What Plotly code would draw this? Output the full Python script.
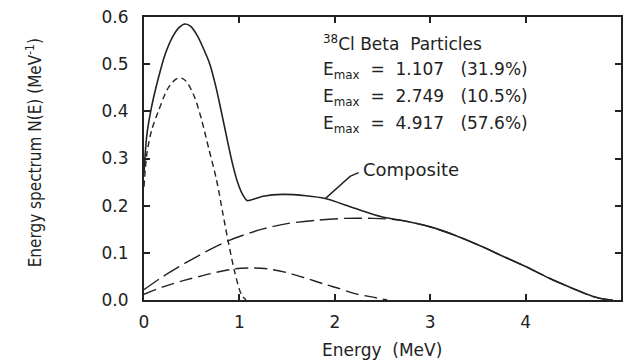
import plotly.graph_objects as go

# ---- data ----
comp_E = [0.0, 0.03, 0.08, 0.15, 0.22, 0.30, 0.37, 0.43, 0.49, 0.56, 0.63, 0.69, 0.75, 0.81, 0.87, 0.93,
          0.98, 1.03, 1.08, 1.12, 1.25, 1.45, 1.70, 1.90, 2.20, 2.50, 2.75, 3.00, 3.25, 3.50, 3.75, 4.00,
          4.25, 4.50, 4.70, 4.85, 4.917]
comp_N = [0.27, 0.35, 0.41, 0.47, 0.52, 0.558, 0.578, 0.585, 0.580, 0.560, 0.53, 0.50, 0.455, 0.40, 0.342, 0.287,
          0.25, 0.225, 0.211, 0.212, 0.220, 0.224, 0.221, 0.215, 0.195, 0.176, 0.167, 0.155, 0.138, 0.117, 0.094, 0.071,
          0.046, 0.024, 0.008, 0.001, 0.0]

b1_E = [0.0, 0.03, 0.08, 0.15, 0.24, 0.30, 0.35, 0.40, 0.45, 0.53, 0.60, 0.68, 0.76, 0.83, 0.88, 0.95, 1.02, 1.07]
b1_N = [0.24, 0.31, 0.36, 0.40, 0.445, 0.462, 0.47, 0.47, 0.462, 0.43, 0.385, 0.32, 0.255, 0.18, 0.127, 0.06, 0.012, 0.0]

b2_E = [0.0, 0.2, 0.43, 0.7, 0.95, 1.15, 1.30, 1.50, 1.70, 1.90, 2.05, 2.20, 2.40, 2.55]
b2_N = [0.012, 0.028, 0.042, 0.056, 0.066, 0.068, 0.066, 0.058, 0.046, 0.033, 0.024, 0.014, 0.006, 0.0]

b3_E = [0.0, 0.2, 0.43, 0.7, 0.9, 1.2, 1.5, 1.8, 2.1, 2.4, 2.6, 2.8, 3.0, 3.25, 3.5, 3.75, 4.0,
        4.25, 4.5, 4.7, 4.85, 4.917]
b3_N = [0.022, 0.05, 0.078, 0.108, 0.127, 0.148, 0.162, 0.169, 0.173, 0.173, 0.171, 0.165, 0.155, 0.138,
        0.117, 0.094, 0.071, 0.046, 0.024, 0.008, 0.001, 0.0]

x_ticks = [0, 1, 2, 3, 4, 5]
y_ticks = [0.0, 0.1, 0.2, 0.3, 0.4, 0.5, 0.6]

NB = "\u00a0"
title_line = "<sup>38</sup>Cl Beta" + NB + NB + "Particles"
emax_lines = ["E<sub>max</sub>" + NB + " = " + NB + "1.107" + NB + NB + " (31.9%)",
              "E<sub>max</sub>" + NB + " = " + NB + "2.749" + NB + NB + " (10.5%)",
              "E<sub>max</sub>" + NB + " = " + NB + "4.917" + NB + NB + " (57.6%)"]

FONT = "DejaVu Sans"
INK = "#222222"

fig = go.Figure()
fig.add_trace(go.Scatter(x=b3_E, y=b3_N, mode="lines",
                         line=dict(color=INK, width=1.4, dash="18px,6px", shape="spline", smoothing=0.8)))
fig.add_trace(go.Scatter(x=b2_E, y=b2_N, mode="lines",
                         line=dict(color=INK, width=1.4, dash="13px,6px", shape="spline", smoothing=0.8)))
fig.add_trace(go.Scatter(x=b1_E, y=b1_N, mode="lines",
                         line=dict(color=INK, width=1.4, dash="6px,4px", shape="spline", smoothing=0.8)))
fig.add_trace(go.Scatter(x=comp_E, y=comp_N, mode="lines",
                         line=dict(color=INK, width=1.6, shape="spline", smoothing=0.8)))

ann = []
ann.append(dict(x=1.854, y=0.545, xref="x", yref="y", text=title_line, showarrow=False,
                xanchor="left", yanchor="middle", font=dict(family=FONT, size=17, color=INK)))
for i, t in enumerate(emax_lines):
    ann.append(dict(x=1.854, y=0.487 - i * 0.057, xref="x", yref="y", text=t, showarrow=False,
                    xanchor="left", yanchor="middle", font=dict(family=FONT, size=17, color=INK)))
ann.append(dict(x=2.27, y=0.276, xref="x", yref="y", text="Composite", showarrow=False,
                xanchor="left", yanchor="middle", font=dict(family=FONT, size=18, color=INK)))
ann.append(dict(x=0.499, y=-0.175, xref="paper", yref="paper", text="Energy" + NB + NB + "(MeV)", showarrow=False,
                xanchor="center", yanchor="middle", font=dict(family=FONT, size=17, color=INK)))
ann.append(dict(x=-0.2317, y=0.52, xref="paper", yref="paper",
                text="Energy spectrum N(E) (MeV<sup>-1</sup>)", showarrow=False, textangle=-90,
                xanchor="center", yanchor="middle",
                font=dict(family="Liberation Sans Narrow, DejaVu Sans Condensed, sans-serif", size=17, color=INK)))

fig.update_layout(
    width=623, height=361,
    margin=dict(l=144, r=0, t=17, b=61),
    paper_bgcolor="white", plot_bgcolor="white",
    showlegend=False,
    annotations=ann,
    shapes=[dict(type="path", xref="x", yref="y",
                 path="M 1.906 0.216 L 2.16 0.262 L 2.25 0.27",
                 line=dict(color=INK, width=1.4))],
)
fig.update_xaxes(range=[0, 5], tickvals=x_ticks, ticktext=[str(v) for v in x_ticks],
                 ticks="inside", ticklen=6, tickwidth=1.5, tickcolor=INK,
                 showline=True, linecolor=INK, linewidth=2, mirror="ticks",
                 showgrid=False, zeroline=False, ticklabelstandoff=6,
                 tickfont=dict(family=FONT, size=17, color=INK))
fig.update_yaxes(range=[0, 0.6], tickvals=y_ticks, ticktext=[f"{v:.1f}" for v in y_ticks],
                 ticks="inside", ticklen=6, tickwidth=1.5, tickcolor=INK,
                 showline=True, linecolor=INK, linewidth=2, mirror="ticks",
                 showgrid=False, zeroline=False, ticklabelstandoff=10,
                 tickfont=dict(family=FONT, size=17, color=INK))

fig.write_html("out.html")
